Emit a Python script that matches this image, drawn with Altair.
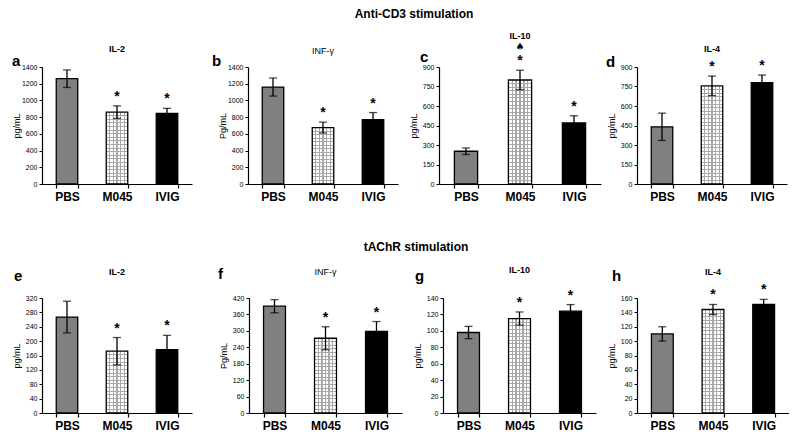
import altair as alt
import pandas as pd

FONT = "Liberation Sans"

groups = ["PBS", "M045", "IVIG"]
letters = ["a", "b", "c", "d", "e", "f", "g", "h"]
cytokines = ["IL-2", "INF-γ", "IL-10", "IL-4", "IL-2", "INF-γ", "IL-10", "IL-4"]
title_bold = ["bold", "normal", "bold", "bold", "bold", "normal", "bold", "bold"]
y_titles = ["pg/mL", "Pg/mL", "pg/mL", "pg/mL", "pg/mL", "Pg/mL", "pg/mL", "pg/mL"]
y_max = [1400, 1400, 900, 900, 320, 420, 140, 160]
y_step = [200, 200, 150, 150, 40, 60, 20, 20]

# Anti-CD3 stimulation
mean_a = [1260, 860, 845]
err_a = [105, 75, 60]
mean_b = [1160, 675, 770]
err_b = [108, 65, 85]
mean_c = [252, 800, 470]
err_c = [25, 75, 55]
mean_d = [440, 755, 780]
err_d = [105, 75, 58]
# tAChR stimulation
mean_e = [267, 172, 176]
err_e = [44, 38, 40]
mean_f = [390, 273, 298]
err_f = [24, 42, 36]
mean_g = [98, 115, 124]
err_g = [7.5, 8, 8]
mean_h = [110, 144, 151]
err_h = [10, 7, 7]

stars = ["", "*", "*"]
extra_none = ["", "", ""]
extra_c = ["", "♠", ""]

means = [mean_a, mean_b, mean_c, mean_d, mean_e, mean_f, mean_g, mean_h]
errs = [err_a, err_b, err_c, err_d, err_e, err_f, err_g, err_h]
extras = [extra_none, extra_none, extra_c, extra_none, extra_none, extra_none, extra_none, extra_none]

# layout (styles)
top_widths = [150, 150, 162, 150]
top_gaps = [56, 41, 36]
bot_widths = [150, 153, 153, 152]
bot_gaps = [57, 41, 41]
top_h = 117
bot_h = 115
title_y = [-18, -16, -31, -18, -26, -26, -28, -26]
letter_x = [-30, -36, -19, -31, -28, -31, -28, -25]
letter_y = [-6, -6, -10, -5, -22, -24, -22, -22]

GRAY = "#808080"
GRID = "#a8a8a8"


def vstripes(cols=6, t=0.06):
    st = [alt.GradientStop(color="white", offset=0)]
    for i in range(1, cols):
        o = i / cols
        st += [alt.GradientStop(color="white", offset=o - t / 2),
               alt.GradientStop(color=GRID, offset=o - t / 2),
               alt.GradientStop(color=GRID, offset=o + t / 2),
               alt.GradientStop(color="white", offset=o + t / 2)]
    st.append(alt.GradientStop(color="white", offset=1))
    return alt.LinearGradient(gradient="linear", stops=st, x1=0, x2=1, y1=0, y2=0)


def hstripes(px):
    rows = max(2, int(round(px / 3.6)))
    t = 1.0 / max(px, 1)
    clear = "rgba(255,255,255,0)"
    st = [alt.GradientStop(color=clear, offset=0)]
    for i in range(1, rows):
        o = i / rows
        st += [alt.GradientStop(color=clear, offset=o - t / 2),
               alt.GradientStop(color=GRID, offset=o - t / 2),
               alt.GradientStop(color=GRID, offset=o + t / 2),
               alt.GradientStop(color=clear, offset=o + t / 2)]
    st.append(alt.GradientStop(color=clear, offset=1))
    return alt.LinearGradient(gradient="linear", stops=st, x1=0, x2=0, y1=0, y2=1)


def panel(k, w, h):
    df = pd.DataFrame({"group": groups, "mean": means[k], "err": errs[k],
                       "star": stars, "extra": extras[k]})
    df["lo"] = df["mean"] - df["err"]
    df["hi"] = df["mean"] + df["err"]

    xaxis = alt.Axis(title=None, labelAngle=0, labelFontSize=12, labelFontWeight="bold",
                     labelFont=FONT, labelColor="black", tickBand="extent", tickSize=4,
                     tickColor="black", domainColor="black", domainWidth=1.2, tickWidth=1.2,
                     labelPadding=3)
    xenc = alt.X("group:N", scale=alt.Scale(domain=groups, paddingInner=0.57, paddingOuter=0.285),
                 axis=xaxis)
    yaxis = alt.Axis(title=y_titles[k], values=list(range(0, y_max[k] + 1, y_step[k])), grid=False,
                     format="d",
                     labelFontSize=7, labelFont=FONT, labelColor="black", tickSize=3,
                     tickColor="black", domainColor="black", domainWidth=1.2, tickWidth=1,
                     labelPadding=2, titleFontSize=9, titleFont=FONT, titleFontWeight="normal",
                     titleColor="black", titleAngle=270, titleX=-26, titleY=h / 2,
                     titleAlign="center", titleBaseline="middle")
    yscale = alt.Scale(domain=[0, y_max[k]], nice=False, zero=True)

    def Y(f):
        return alt.Y(f"{f}:Q", scale=yscale, axis=yaxis)

    base = alt.Chart(df)
    solid = base.transform_filter(alt.datum.group != "M045").mark_bar(
        stroke="black", strokeWidth=1.3).encode(
        x=xenc, y=Y("mean"),
        fill=alt.Fill("group:N", scale=alt.Scale(domain=["PBS", "IVIG"], range=[GRAY, "#000000"]),
                      legend=None))
    px = means[k][1] / y_max[k] * h
    m1 = base.transform_filter(alt.datum.group == "M045").mark_bar(
        fill=vstripes(), strokeWidth=0).encode(x=xenc, y=Y("mean"))
    m2 = base.transform_filter(alt.datum.group == "M045").mark_bar(
        fill=hstripes(px), stroke="black", strokeWidth=1.3).encode(x=xenc, y=Y("mean"))
    rule = base.mark_rule(color="black", strokeWidth=1.3).encode(x=xenc, y=Y("lo"), y2="hi:Q")
    cap_hi = base.mark_tick(color="black", thickness=1.3, size=8).encode(x=xenc, y=Y("hi"))
    cap_lo = base.mark_tick(color="black", thickness=1.3, size=8).encode(x=xenc, y=Y("lo"))
    star = base.transform_filter(alt.datum.star != "").mark_text(
        fontSize=14, fontWeight="bold", font=FONT, color="black", baseline="middle", dy=-9).encode(
        x=xenc, y=Y("hi"), text="star:N")
    layers = [solid, m1, m2, rule, cap_hi, cap_lo, star]
    if any(extras[k]):
        ex = base.transform_filter(alt.datum.extra != "").mark_text(
            fontSize=10, font="DejaVu Sans", color="black", baseline="middle", dy=-23).encode(
            x=xenc, y=Y("hi"), text="extra:N")
        layers.append(ex)
    letter = alt.Chart(pd.DataFrame({"t": [letters[k]]})).mark_text(
        align="left", baseline="middle", fontSize=15, fontWeight="bold", font=FONT,
        color="black").encode(text="t:N", x=alt.value(letter_x[k]), y=alt.value(letter_y[k]))
    ttl = alt.Chart(pd.DataFrame({"t": [cytokines[k]]})).mark_text(
        align="center", baseline="middle", fontSize=9, fontWeight=title_bold[k], font=FONT,
        color="black").encode(text="t:N", x=alt.value(w / 2), y=alt.value(title_y[k]))
    layers += [letter, ttl]
    return alt.layer(*layers).properties(width=w, height=h)


def spacer(w, h):
    return alt.Chart(pd.DataFrame({"v": [0]})).mark_point(opacity=0).encode(
        x=alt.X("v:Q", axis=None), y=alt.Y("v:Q", axis=None)).properties(width=w, height=h)


def row(idx, widths, gaps, h, title, offset, dx, dy):
    items = []
    for j, k in enumerate(idx):
        items.append(panel(k, widths[j], h))
        if j < len(gaps):
            items.append(spacer(gaps[j], h))
    return alt.hconcat(*items, spacing=0, bounds="flush",
                       title=alt.TitleParams(title, fontSize=12, fontWeight="bold", font=FONT,
                                             color="black", anchor="start", align="center",
                                             frame="group", dx=dx, dy=dy, offset=offset))


top = row([0, 1, 2, 3], top_widths, top_gaps, top_h, "Anti-CD3 stimulation", 3, 372, -8)
bottom = row([4, 5, 6, 7], bot_widths, bot_gaps, bot_h, "tAChR stimulation", 12, 374, 0)

chart = alt.vconcat(top, bottom, spacing=39).properties(
    padding={"left": 4, "top": 0, "right": 0, "bottom": 0},
    background="white"
).configure_view(stroke=None)

chart.save("out.html", embed_options={"renderer": "svg", "actions": False})
